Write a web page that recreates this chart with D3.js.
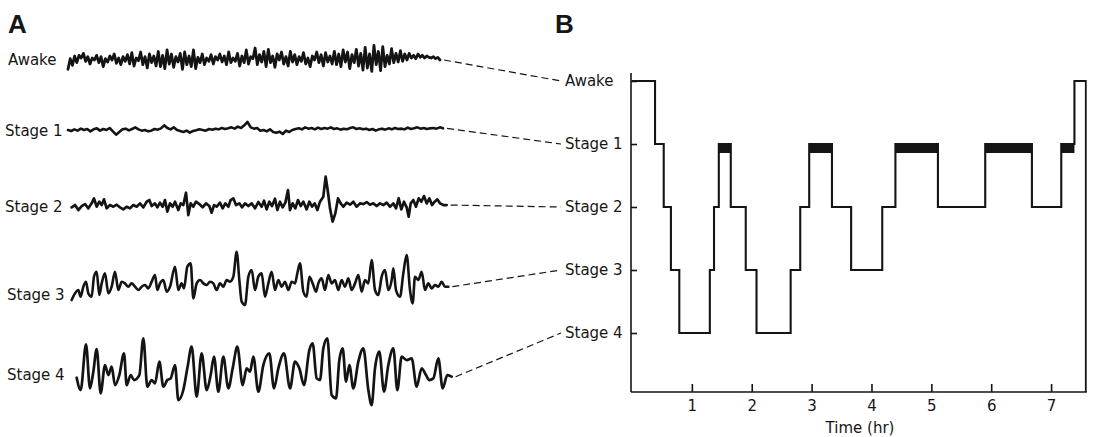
<!DOCTYPE html>
<html><head><meta charset="utf-8">
<script src="https://cdn.jsdelivr.net/npm/d3@7"></script>
<style>
body{margin:0;background:#fff}
svg{display:block}
text{font-family:"DejaVu Sans",sans-serif;fill:#161616}
</style>
</head><body>
<svg id="c" width="1095" height="437"></svg>
<script>
// ---------------- DATA ----------------
const stages = ["Awake","Stage 1","Stage 2","Stage 3","Stage 4"];
const hourTicks = [1,2,3,4,5,6,7];
const xLabel = "Time (hr)";

// hypnogram: start time (hr) of each epoch, its stage, REM flag
const hypnoStarts = [0,0.385,0.53,0.65,0.79,1.30,1.37,1.45,1.65,1.90,2.08,2.65,2.81,2.96,3.34,3.66,4.18,4.40,5.11,5.90,6.68,7.17,7.39];
const hypnoStages = ["Awake","Stage 1","Stage 2","Stage 3","Stage 4","Stage 3","Stage 2","Stage 1","Stage 2","Stage 3","Stage 4","Stage 3","Stage 2","Stage 1","Stage 2","Stage 3","Stage 2","Stage 1","Stage 2","Stage 1","Stage 2","Stage 1","Awake"];
const hypnoREM = [0,0,0,0,0,0,0,1,0,0,0,0,0,1,0,0,0,1,0,1,0,1,0];
const recordingEnd = 7.58;

// EEG samples (amplitude units), uniformly sampled
const awakeEEG = [-28,4,-16,12,-8,14,6,20,-4,10,-12,6,0,14,-8,10,-20,4,-6,12,0,18,-10,6,-14,10,-4,16,-12,22,-18,6,-2,24,-14,10,-24,18,-8,12,
 -18,26,-20,14,-26,30,-12,18,-22,10,-6,20,-28,24,-14,12,-20,30,-26,8,-8,18,-14,6,-4,16,-12,10,0,18,-6,12,-14,24,-8,6,-4,20,-18,12,
 -8,30,-12,10,4,36,-14,16,-6,26,-20,32,-8,12,-22,18,0,24,-12,10,-18,26,-6,16,-14,10,-4,22,-12,6,-20,12,0,24,-8,16,-18,22,-6,12,
 -12,26,-14,18,-20,30,-6,24,-26,16,-8,32,-18,20,-30,38,-24,18,-34,44,-14,26,-32,40,-20,14,-12,34,-8,20,-6,28,-4,18,0,20,6,14,4,18,8,14,6,12,8,6,10,4,8,0];
const stage1EEG = [0,-3,2,-2,4,0,3,-4,2,5,-2,3,0,6,-4,-14,-6,2,4,-1,3,8,2,-2,0,-4,-2,3,1,5,14,6,2,8,0,-3,-6,-2,-8,-3,-1,2,0,-2,3,1,4,2,6,3,5,8,4,10,6,14,24,8,4,6,-2,0,-4,2,-6,-8,-5,-12,-2,-6,0,3,5,2,8,4,6,2,7,3,6,4,8,3,5,1,4,2,6,8,3,5,2,4,0,3,-2,2,4,1,5,2,6,3,4,2,7,3,5,8,4,6,3,5,6,4,8,5];
// EEG as [time unit, amplitude] pairs
const stage2EEG = [[35,-2],[45,5],[55,-10],[65,2],[75,8],[85,-5],[95,10],[102,25],[110,0],[118,15],[125,5],[132,22],[140,-5],[150,5],[160,0],[170,6],[180,-2],[190,-8],[200,0],[210,-5],[220,5],[230,0],[240,10],[250,-2],[260,15],[268,20],[275,2],[285,10],[292,-2],[300,12],[308,0],[315,20],[322,-15],[330,10],[338,0],[345,15],[355,-10],[362,10],[370,5],[378,42],[385,-25],[392,10],[400,0],[408,15],[418,8],[428,-2],[438,10],[448,2],[455,-18],[462,5],[470,0],[480,12],[488,-5],[496,10],[505,0],[512,20],[520,25],[528,5],[538,10],[546,-2],[555,10],[565,2],[575,10],[585,-5],[595,14],[605,0],[612,18],[620,-8],[628,15],[636,2],[645,24],[652,-10],[660,15],[668,-2],[676,12],[684,50],[690,-10],[698,10],[706,-5],[714,20],[722,2],[730,15],[740,-8],[748,15],[756,0],[764,10],[772,-10],[780,15],[790,30],[797,90],[803,50],[810,-5],[818,-45],[826,-20],[834,25],[842,10],[850,0],[860,12],[870,6],[880,15],[890,0],[900,10],[910,8],[920,14],[930,6],[940,10],[950,2],[960,10],[970,5],[980,12],[990,0],[1000,10],[1008,-5],[1016,25],[1024,-8],[1032,15],[1040,-2],[1046,-30],[1052,10],[1060,20],[1068,0],[1076,25],[1084,15],[1092,32],[1100,10],[1108,25],[1116,5],[1124,15],[1132,22],[1140,10],[1150,5],[1160,5]];
const stage3EEG = [[35,-25],[45,-5],[55,5],[62,-15],[70,15],[78,30],[85,-5],[95,-15],[102,45],[110,60],[118,-10],[125,25],[135,55],[145,-5],[155,15],[165,60],[175,5],[185,30],[195,25],[205,15],[215,25],[225,15],[235,5],[245,15],[255,20],[265,10],[275,30],[285,50],[292,5],[300,25],[310,35],[320,0],[330,15],[345,75],[355,5],[365,25],[372,10],[382,75],[392,85],[400,-20],[410,25],[420,35],[430,25],[440,20],[450,30],[460,25],[470,5],[480,25],[490,15],[500,35],[510,30],[520,45],[530,120],[538,35],[545,-30],[555,-40],[565,45],[575,65],[585,5],[595,45],[605,55],[615,-15],[625,25],[635,60],[645,5],[655,35],[665,15],[675,30],[685,5],[695,30],[705,25],[712,55],[720,85],[730,0],[740,-15],[748,45],[758,25],[768,0],[775,25],[785,40],[795,5],[805,50],[815,25],[825,35],[835,5],[845,35],[855,15],[865,40],[875,5],[885,25],[895,50],[905,0],[915,35],[925,25],[935,95],[945,5],[955,-10],[965,45],[975,65],[985,5],[995,35],[1000,70],[1008,5],[1020,-15],[1030,55],[1040,110],[1050,5],[1058,-35],[1065,45],[1075,35],[1085,60],[1095,5],[1105,25],[1115,10],[1125,20],[1135,15],[1145,30],[1155,15],[1165,15]];
const stage4EEG = [[50,-3],[62,-40],[78,97],[90,-35],[100,15],[110,83],[122,-50],[135,35],[145,5],[155,30],[165,-25],[178,5],[192,70],[200,-25],[212,5],[222,-10],[238,5],[250,115],[262,-30],[275,-10],[285,-20],[298,45],[310,-30],[322,-10],[332,-5],[345,35],[355,-70],[370,-40],[382,25],[395,90],[410,-60],[425,70],[440,-40],[452,5],[462,60],[475,-45],[490,60],[505,-35],[518,25],[532,90],[548,-25],[560,25],[570,15],[580,60],[595,-45],[610,35],[628,70],[642,-35],[655,25],[672,70],[690,-35],[705,45],[718,25],[732,-25],[748,80],[758,100],[770,-5],[780,-10],[790,85],[802,115],[815,-55],[828,-65],[838,50],[848,85],[858,-15],[868,35],[880,-35],[895,45],[910,85],[925,-40],[935,-85],[945,25],[958,75],[972,-45],[985,35],[1000,85],[1012,-40],[1025,60],[1040,50],[1055,55],[1070,-30],[1085,25],[1098,5],[1108,-10],[1120,-5],[1135,55],[1148,-35],[1162,5],[1175,0]];

// ---------------- LAYOUT ----------------
const svg = d3.select("#c");
const ink = "#141414";

svg.append("text").attr("x",8).attr("y",33).text("A")
  .style("font-family","'Liberation Sans',Arial,sans-serif").style("font-weight","bold").style("font-size","26px");
svg.append("text").attr("x",555).attr("y",33).text("B")
  .style("font-family","'Liberation Sans',Arial,sans-serif").style("font-weight","bold").style("font-size","26px");

// ---------- Panel B: hypnogram ----------
const x = d3.scaleLinear().domain([0,7.6]).range([632,1087]);
const y = d3.scalePoint().domain(stages).range([81,333]);
const axisTop = 73, axisBottom = 392, axisLeft = 631;

const gB = svg.append("g");
gB.append("line").attr("x1",axisLeft).attr("x2",axisLeft).attr("y1",axisTop).attr("y2",axisBottom)
  .attr("stroke",ink).attr("stroke-width",1.6);
gB.append("line").attr("x1",axisLeft).attr("x2",x(recordingEnd)+1).attr("y1",axisBottom).attr("y2",axisBottom)
  .attr("stroke",ink).attr("stroke-width",1.6);

const xAxis = d3.axisBottom(x).tickValues(hourTicks).tickFormat(d3.format("d"))
  .tickSizeInner(-8).tickSizeOuter(0).tickPadding(8);
const gx = gB.append("g").attr("transform",`translate(0,${axisBottom})`).call(xAxis);
gx.select(".domain").remove();
gx.selectAll(".tick line").attr("stroke",ink).attr("stroke-width",1.6);
gx.selectAll(".tick text").style("font-family","'DejaVu Sans',sans-serif").style("font-size","15px").attr("fill",ink);
gB.append("text").attr("x",860).attr("y",433).attr("text-anchor","middle").style("font-size","15px").text(xLabel);

const yAxis = d3.axisRight(y).tickSizeInner(6).tickSizeOuter(0).tickFormat("");
const gy = gB.append("g").attr("transform",`translate(${axisLeft},0)`).call(yAxis);
gy.select(".domain").remove();
gy.selectAll(".tick line").attr("stroke",ink).attr("stroke-width",1.6);

const labelStartX = 565;
gB.selectAll("text.ylab").data(stages).enter().append("text").attr("class","ylab")
  .attr("x",labelStartX).attr("y",d=>y(d)).attr("dy","0.36em")
  .style("font-size","15px").text(d=>d);

const epochs = hypnoStarts.map((t,i)=>({t0:t, t1: i<hypnoStarts.length-1 ? hypnoStarts[i+1] : recordingEnd, stage:hypnoStages[i], rem:hypnoREM[i]}));
gB.selectAll("rect.rem").data(epochs.filter(d=>d.rem)).enter().append("rect").attr("class","rem")
  .attr("x",d=>x(d.t0)).attr("width",d=>x(d.t1)-x(d.t0))
  .attr("y",d=>y(d.stage)-1).attr("height",10).attr("fill",ink);

const stepPts = epochs.map(d=>[d.t0,d.stage]).concat([[recordingEnd, hypnoStages[hypnoStages.length-1]]]);
gB.append("path").datum(stepPts)
  .attr("d", d3.line().x(d=>x(d[0])).y(d=>y(d[1])).curve(d3.curveStepAfter))
  .attr("fill","none").attr("stroke",ink).attr("stroke-width",2.1).attr("stroke-linejoin","miter");
gB.append("line").attr("x1",x(recordingEnd)).attr("x2",x(recordingEnd))
  .attr("y1",y(hypnoStages[hypnoStages.length-1])-1).attr("y2",axisBottom)
  .attr("stroke",ink).attr("stroke-width",1.8);

// ---------- Panel A: EEG traces ----------
const rows = [
  {stage:"Awake",  data:awakeEEG.map((v,i)=>[i,v]),  xd:[0,awakeEEG.length-1],  xr:[68,440], cy:60,    lx:8, ly:65,  w:2.8, curve:d3.curveLinear},
  {stage:"Stage 1",data:stage1EEG.map((v,i)=>[i,v]), xd:[0,stage1EEG.length-1], xr:[68,443], cy:130,   lx:5, ly:136, w:2.6, curve:d3.curveLinear},
  {stage:"Stage 2",data:stage2EEG, xd:[0,1200], xr:[60,460], cy:206.7, lx:5, ly:212, w:2.7, curve:d3.curveLinear},
  {stage:"Stage 3",data:stage3EEG, xd:[0,1200], xr:[60,460], cy:291.7, lx:7, ly:300, w:2.6, curve:d3.curveMonotoneX},
  {stage:"Stage 4",data:stage4EEG, xd:[0,1200], xr:[60,460], cy:376.7, lx:7, ly:380, w:2.7, curve:d3.curveMonotoneX}
];
const amp = d3.scaleLinear().domain([-150,150]).range([50,-50]);

rows.forEach(r=>{
  const xs = d3.scaleLinear().domain(r.xd).range(r.xr);
  const g = svg.append("g");
  g.append("text").attr("x",r.lx).attr("y",r.ly).style("font-size","15px").text(r.stage);
  g.append("path").datum(r.data)
    .attr("d", d3.line().x(d=>xs(d[0])).y(d=>r.cy+amp(d[1])).curve(r.curve))
    .attr("fill","none").attr("stroke",ink).attr("stroke-width",r.w)
    .attr("stroke-linejoin","round").attr("stroke-linecap","round");
  const last = r.data[r.data.length-1];
  g.append("line")
    .attr("x1", xs(last[0])+4).attr("y1", r.cy+amp(last[1]))
    .attr("x2", labelStartX-4).attr("y2", y(r.stage))
    .attr("stroke",ink).attr("stroke-width",1.2).attr("stroke-dasharray","7,4");
});
</script>
</body></html>
